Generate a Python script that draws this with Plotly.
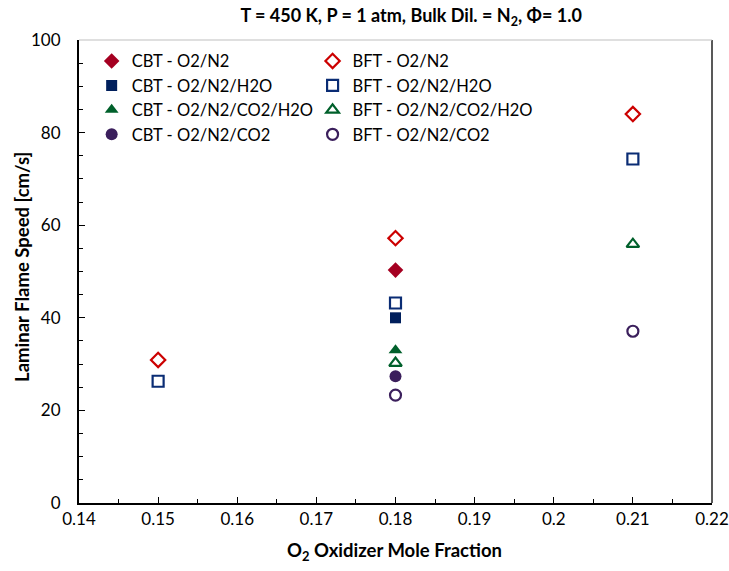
import plotly.graph_objects as go

# ---- data ----
x_cbt_n2 = [0.18]
y_cbt_n2 = [50.3]
x_bft_n2 = [0.15, 0.18, 0.21]
y_bft_n2 = [30.9, 57.2, 84.0]

x_cbt_h2o = [0.18]
y_cbt_h2o = [40.0]
x_bft_h2o = [0.15, 0.18, 0.21]
y_bft_h2o = [26.3, 43.2, 74.3]

x_cbt_co2h2o = [0.18]
y_cbt_co2h2o = [33.0]
x_bft_co2h2o = [0.18, 0.21]
y_bft_co2h2o = [30.2, 55.9]

x_cbt_co2 = [0.18]
y_cbt_co2 = [27.4]
x_bft_co2 = [0.18, 0.21]
y_bft_co2 = [23.3, 37.1]

x_ticks = [0.14, 0.15, 0.16, 0.17, 0.18, 0.19, 0.2, 0.21, 0.22]
x_ticktext = ["0.14", "0.15", "0.16", "0.17", "0.18", "0.19", "0.2", "0.21", "0.22"]

FONT = "Lato"
RED_F, RED_O = "#A50021", "#CC0000"
NAVY_F, NAVY_O = "#001F5C", "#0A2C74"
GRN = "#00602B"
PUR = "#3B1F5C"

fig = go.Figure()

def add(x, y, name, symbol, color, size, legend, filled):
    fig.add_trace(go.Scatter(
        x=x, y=y, mode="markers", name=name, legend=legend,
        marker=dict(symbol=symbol if filled else symbol + "-open",
                    color=color, size=size,
                    line=dict(width=0 if filled else 2.2, color=color)),
    ))

add(x_cbt_n2, y_cbt_n2, "CBT - O2/N2", "diamond", RED_F, 12, "legend", True)
add(x_cbt_h2o, y_cbt_h2o, "CBT - O2/N2/H2O", "square", NAVY_F, 11, "legend", True)
add(x_cbt_co2h2o, y_cbt_co2h2o, "CBT - O2/N2/CO2/H2O", "triangle-up", GRN, 12, "legend", True)
add(x_cbt_co2, y_cbt_co2, "CBT - O2/N2/CO2", "circle", PUR, 12, "legend", True)

add(x_bft_n2, y_bft_n2, "BFT - O2/N2", "diamond", RED_O, 11, "legend2", False)
add(x_bft_h2o, y_bft_h2o, "BFT - O2/N2/H2O", "square", NAVY_O, 11, "legend2", False)
add(x_bft_co2h2o, y_bft_co2h2o, "BFT - O2/N2/CO2/H2O", "triangle-up", GRN, 11, "legend2", False)
add(x_bft_co2, y_bft_co2, "BFT - O2/N2/CO2", "circle", PUR, 11, "legend2", False)

legend_common = dict(font=dict(family=FONT, size=16.5, color="black"),
                     bgcolor="rgba(0,0,0,0)", itemwidth=30,
                     tracegroupgap=0, xanchor="left", yanchor="top")

fig.update_layout(
    width=729, height=571,
    margin=dict(l=79, r=17, t=40, b=68, autoexpand=False),
    paper_bgcolor="white", plot_bgcolor="white",
    font=dict(family=FONT, color="black"),
    title=dict(text="<b>T = 450 K, P = 1 atm, Bulk Dil. = N<sub>2</sub>, Φ= 1.0</b>",
               x=0.564, xanchor="center", y=0.972, yanchor="middle",
               font=dict(family=FONT, size=18, color="black")),
    legend=dict(x=0.02, y=0.992, **legend_common),
    legend2=dict(x=0.369, y=0.992, **legend_common),
    xaxis=dict(range=[0.14, 0.22], automargin=False,
               tickvals=x_ticks, ticktext=x_ticktext,
               ticks="inside", ticklen=6, tickwidth=1, tickcolor="black",
               minor=dict(dtick=0.005, tick0=0.14, ticks="inside", ticklen=4, tickcolor="black"),
               showline=True, linecolor="black", linewidth=2, mirror=False,
               showgrid=False, zeroline=False, ticklabeloverflow="allow",
               tickfont=dict(family=FONT, size=17, color="black")),
    yaxis=dict(range=[0, 100], dtick=20, automargin=False,
               ticks="inside", ticklen=6, tickwidth=1, tickcolor="black",
               minor=dict(dtick=5, ticks="inside", ticklen=4, tickcolor="black"),
               showline=True, linecolor="black", linewidth=2,
               showgrid=False, zeroline=False, ticklabeloverflow="allow",
               tickfont=dict(family=FONT, size=17, color="black"),
               ticklabelstandoff=13),
    showlegend=True,
)

# axis titles as annotations for precise placement
fig.add_annotation(text="<b>O<sub>2</sub> Oxidizer Mole Fraction</b>",
                   xref="paper", yref="paper", x=0.499, y=-0.104,
                   xanchor="center", yanchor="middle", showarrow=False,
                   font=dict(family=FONT, size=18.5, color="black"))
fig.add_annotation(text="<b>Laminar Flame Speed [cm/s]</b>",
                   xref="paper", yref="paper", x=-0.090, y=0.51,
                   xanchor="center", yanchor="middle", showarrow=False, textangle=-90,
                   font=dict(family=FONT, size=18.5, color="black"))

# right and top frame (thin gray)
fig.add_shape(type="line", xref="paper", yref="paper", x0=1, x1=1, y0=0, y1=1,
              line=dict(color="#595959", width=2))
fig.add_shape(type="line", xref="paper", yref="paper", x0=0, x1=1, y0=1, y1=1,
              line=dict(color="#BFBFBF", width=1))

fig.write_html("out.html")
